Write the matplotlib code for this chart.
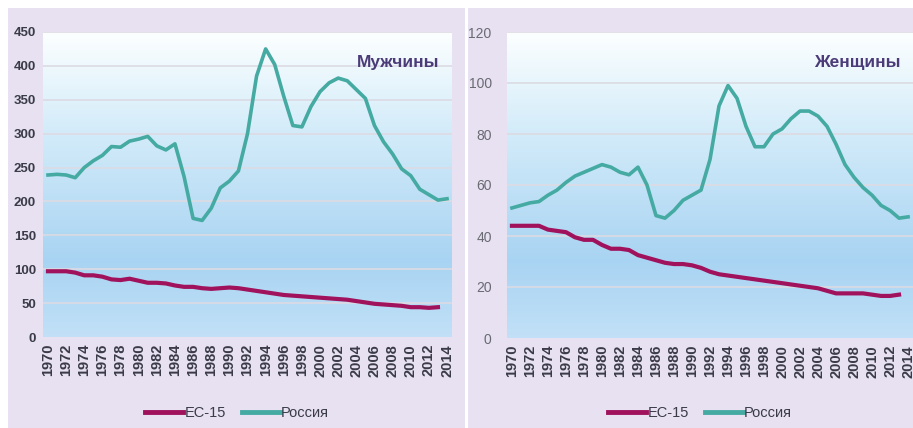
import numpy as np
import matplotlib
matplotlib.use("Agg")
import matplotlib.pyplot as plt
from matplotlib.patches import Rectangle
from matplotlib.lines import Line2D

years = list(range(1970, 2015))
years_eu = list(range(1970, 2014))

men_russia = [239, 240, 239, 235, 250, 260, 268, 281, 280, 289, 292, 296, 282, 276, 285,
              237, 175, 172, 190, 220, 230, 245, 300, 385, 425, 402, 355, 312, 310, 340,
              362, 375, 382, 378, 365, 352, 312, 288, 270, 248, 238, 218, 210, 202, 204]
men_eu = [97, 97, 97, 95, 91, 91, 89, 85, 84, 86, 83, 80, 80, 79, 76, 74, 74, 72, 71, 72,
          73, 72, 70, 68, 66, 64, 62, 61, 60, 59, 58, 57, 56, 55, 53, 51, 49, 48, 47, 46,
          44, 44, 43, 44]
women_russia = [51, 52, 53, 53.5, 56, 58, 61, 63.5, 65, 66.5, 68, 67, 65, 64, 67, 60, 48, 47,
                50, 54, 56, 58, 70, 91, 99, 94, 83, 75, 75, 80, 82, 86, 89, 89, 87, 83, 76,
                68, 63, 59, 56, 52, 50, 47, 47.5]
women_eu = [44, 44, 44, 44, 42.5, 42, 41.5, 39.5, 38.5, 38.5, 36.5, 35, 35, 34.5, 32.5, 31.5,
            30.5, 29.5, 29, 29, 28.5, 27.5, 26, 25, 24.5, 24, 23.5, 23, 22.5, 22, 21.5, 21,
            20.5, 20, 19.5, 18.5, 17.5, 17.5, 17.5, 17.5, 17, 16.5, 16.5, 17]

titles = ["Мужчины", "Женщины"]
legend_labels = ["ЕС-15", "Россия"]
yticks_list = [list(range(0, 451, 50)), list(range(0, 121, 20))]
xticks = list(range(1970, 2015, 2))

TEAL = "#45aaa2"
MAG = "#a0125c"
LAV = "#e7e1f1"
FONT = ["Liberation Sans", "DejaVu Sans"]

W, H = 913, 428
fig = plt.figure(figsize=(W / 100, H / 100), dpi=100)
fig.patch.set_facecolor("white")

# panel backgrounds
fig.patches.append(Rectangle((8 / W, 0), (465 - 8) / W, (H - 8) / H, transform=fig.transFigure,
                             facecolor=LAV, edgecolor="none", zorder=-10))
fig.patches.append(Rectangle((468 / W, 0), (913 - 468) / W, (H - 8) / H, transform=fig.transFigure,
                             facecolor=LAV, edgecolor="none", zorder=-10))

axes_px = [(43, 452, 32, 337), (507, 913, 32, 338)]
data = [(men_eu, men_russia), (women_eu, women_russia)]

stops = [0.0, 0.3, 0.75, 1.0]
cols = [np.array([0.99, 1.0, 1.0]), np.array([0.84, 0.93, 0.98]),
        np.array([0.66, 0.83, 0.95]), np.array([0.76, 0.88, 0.97])]
t = np.linspace(0, 1, 256)
img = np.zeros((256, 1, 3))
for c in range(3):
    img[:, 0, c] = np.interp(t, stops, [cc[c] for cc in cols])

for i, (x0, x1, y0, y1) in enumerate(axes_px):
    ax = fig.add_axes([x0 / W, (H - y1) / H, (x1 - x0) / W, (y1 - y0) / H])
    ax.set_facecolor("none")
    yt = yticks_list[i]
    ymax = yt[-1]
    ax.imshow(img, aspect="auto", extent=(1969.45, 2014.55, 0, ymax), origin="upper", zorder=0)
    ax.set_xlim(1969.45, 2014.55)
    ax.set_ylim(0, ymax)
    for v in yt[1:]:
        ax.axhline(v, color="#dcdbe3", lw=1.2, zorder=1)
    eu, ru = data[i]
    ax.plot(years, ru, color=TEAL, lw=2.6, zorder=3, solid_joinstyle="round")
    ax.plot(years_eu, eu, color=MAG, lw=3.0, zorder=3, solid_joinstyle="round")
    for s in ax.spines.values():
        s.set_visible(False)
    ax.set_yticks(yt)
    ax.set_xticks(xticks)
    ax.set_xticklabels([str(x) for x in xticks], rotation=90, fontsize=10.5,
                       fontweight="bold", color="#3a3a48", family=FONT)
    if i == 0:
        ax.set_yticklabels([str(v) for v in yt], fontsize=9.5, fontweight="bold",
                           color="#3a3a48", family=FONT)
    else:
        ax.set_yticklabels([str(v) for v in yt], fontsize=10,
                           color="#6a6a72", family=FONT)
    ax.tick_params(length=0, pad=5)
    ax.tick_params(axis="y", pad=11 if i == 1 else 5)
    ax.text(0.97, 0.9, titles[i], transform=ax.transAxes, ha="right", va="center",
            fontsize=12.5, fontweight="bold", color="#4b3b78", family=FONT)

# legends
for cx in (237, 700):
    handles = [Line2D([0], [0], color=MAG, lw=3.5), Line2D([0], [0], color=TEAL, lw=3.5)]
    leg = fig.legend(handles, legend_labels, loc="center", bbox_to_anchor=(cx / W, (H - 413) / H),
                     ncol=2, frameon=False, handlelength=2.6, handletextpad=0.1,
                     columnspacing=1.1, prop={"family": FONT, "size": 10.5})
    for txt in leg.get_texts():
        txt.set_color("#3a3a48")

fig.savefig("out.png", dpi=100)
